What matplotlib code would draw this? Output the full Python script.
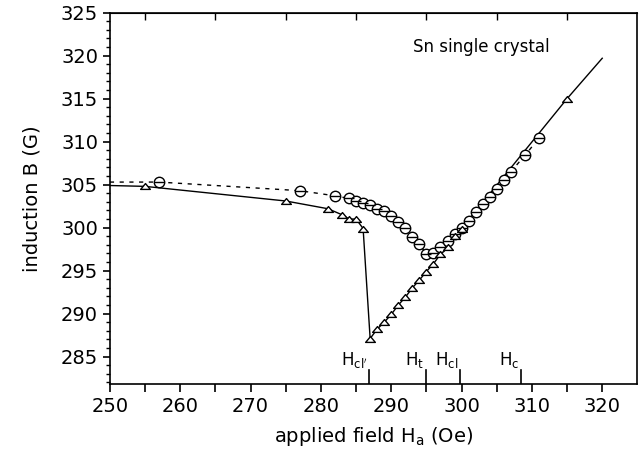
import numpy as np
import matplotlib
matplotlib.use("Agg")
import matplotlib.pyplot as plt
from matplotlib.path import Path

# triangles (solid line)
tri_H = [255, 275, 281, 283, 284, 285, 286, 287, 288, 289, 290, 291, 292, 293,
         294, 295, 296, 297, 298, 299, 300, 315]
tri_B = [304.8, 303.1, 302.2, 301.5, 301.0, 301.0, 299.9, 287.1, 288.2, 289.0,
         289.9, 291.0, 291.9, 293.0, 293.9, 294.9, 295.8, 296.9, 297.8, 299.0,
         299.9, 315.0]
tri_start = (250, 304.9)
tri_end = (320, 319.7)

# circles (dashed line)
circ_H = [257, 277, 282, 284, 285, 286, 287, 288, 289, 290, 291, 292, 293, 294,
          295, 296, 297, 298, 299, 300, 301, 302, 303, 304, 305, 306, 307, 309, 311]
circ_B = [305.3, 304.3, 303.7, 303.4, 303.1, 302.9, 302.6, 302.2, 301.9, 301.3,
          300.7, 300.0, 298.9, 298.1, 296.9, 297.1, 297.8, 298.5, 299.3, 300.0,
          300.8, 301.8, 302.7, 303.6, 304.5, 305.5, 306.5, 308.4, 310.4]
circ_start = (250, 305.3)

# characteristic fields
mark_H = [286.9, 294.9, 299.8, 308.4]
mark_lbl = [r"H$_{\rm cl'}$", r"H$_{\rm t}$", r"H$_{\rm cl}$", r"H$_{\rm c}$"]

# flat open triangle
tri_marker = Path([(-1, -0.6), (1, -0.6), (0, 0.6), (-1, -0.6)],
                  [Path.MOVETO, Path.LINETO, Path.LINETO, Path.CLOSEPOLY])

fig = plt.figure(figsize=(6.39, 4.53), dpi=100)
ax = fig.add_axes([0.172, 0.152, 0.8255, 0.82])

# lines
ax.plot([tri_start[0]] + tri_H + [tri_end[0]], [tri_start[1]] + tri_B + [tri_end[1]],
        color="black", lw=1.0)
ax.plot([circ_start[0]] + circ_H, [circ_start[1]] + circ_B, color="black", lw=1.0,
        ls=(0, (3, 4)))

# markers: circle with a horizontal bar
ax.plot(circ_H, circ_B, ls="none", marker="o", ms=7.5, mfc="white",
        mec="black", mew=1.0)
ax.plot(circ_H, circ_B, ls="none", marker="_", ms=7.5, mec="black", mew=1.0)
ax.plot(tri_H, tri_B, ls="none", marker=tri_marker, ms=7, mfc="white",
        mec="black", mew=1.0)

ax.set_xlim(250, 325)
ax.set_ylim(281.8, 325)

# field markers at the bottom axis
for h, lbl in zip(mark_H, mark_lbl):
    ax.plot([h, h], [281.8, 283.4], color="black", lw=1.2)
    ax.text(h - 0.2, 283.5, lbl, ha="right", va="bottom", fontsize=12)

fig.text(413 / 639, 1 - 47 / 453, "Sn single crystal", fontsize=12,
         ha="left", va="center")

ax.set_xticks(np.arange(250, 321, 10))
ax.set_xticks(np.arange(255, 325, 10), minor=True)
ax.set_yticks(np.arange(285, 326, 5))
ax.set_yticks(np.arange(282, 326, 1), minor=True)
ax.tick_params(axis="x", which="both", direction="out", length=6, width=1.2,
               labelsize=14, top=False)
ax.tick_params(axis="y", which="major", direction="out", length=5, width=1.2,
               labelsize=14, right=False)
ax.tick_params(axis="y", which="minor", direction="out", length=3, width=1.0)

# inward ticks on top spine
top = ax.secondary_xaxis("top")
top.set_xticks(np.arange(255, 325, 10))
top.tick_params(direction="in", length=5, width=1.0, labeltop=False)

for s in ax.spines.values():
    s.set_linewidth(1.2)

ax.set_xlabel(r"applied field H$_{\rm a}$ (Oe)", fontsize=14, labelpad=6)
ax.set_ylabel("induction B (G)", fontsize=14, labelpad=14)

fig.savefig("out.png", dpi=100)
